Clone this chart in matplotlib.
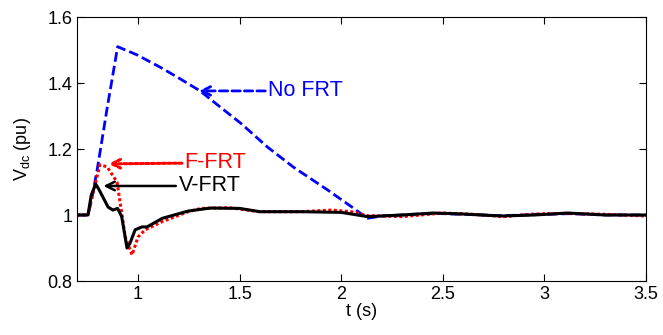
import matplotlib
matplotlib.use("Agg")
import matplotlib.pyplot as plt

plt.rcParams["font.family"] = ["Liberation Sans", "DejaVu Sans"]

# ---------- data ----------
t_nofrt = [0.70, 0.754, 0.77, 0.80, 0.85, 0.90, 0.996, 1.109, 1.193, 1.306,
           1.405, 1.504, 1.637, 1.765, 1.933, 2.06, 2.10, 2.13, 2.20, 2.45,
           2.60, 2.79, 2.95, 3.12, 3.30, 3.50]
v_nofrt = [1.00, 1.00, 1.04, 1.14, 1.33, 1.51, 1.485, 1.448, 1.418, 1.376,
           1.327, 1.279, 1.206, 1.145, 1.076, 1.021, 1.003, 0.99, 0.997, 1.005,
           1.002, 0.998, 1.001, 1.004, 1.0, 1.0]

t_ffrt = [0.70, 0.754, 0.77, 0.813, 0.848, 0.897, 0.92, 0.937, 0.971, 1.00,
          1.035, 1.12, 1.247, 1.31, 1.45, 1.60, 1.80, 1.95, 2.05, 2.13,
          2.30, 2.50, 2.65, 2.80, 2.95, 3.10, 3.30, 3.50]
v_ffrt = [1.00, 1.00, 1.045, 1.152, 1.146, 1.10, 1.006, 0.934, 0.879, 0.933,
          0.955, 0.98, 1.01, 1.02, 1.022, 1.01, 1.01, 1.015, 1.01, 0.998,
          0.995, 1.006, 1.002, 0.995, 1.003, 1.005, 1.002, 0.997]

t_vfrt = [0.70, 0.754, 0.77, 0.792, 0.81, 0.853, 0.877, 0.90, 0.92, 0.946,
          0.961, 0.986, 1.02, 1.045, 1.12, 1.247, 1.356, 1.50, 1.60, 1.80,
          2.00, 2.13, 2.30, 2.455, 2.60, 2.786, 2.95, 3.116, 3.30, 3.50]
v_vfrt = [1.00, 1.00, 1.06, 1.094, 1.075, 1.024, 1.015, 1.02, 0.995, 0.90,
          0.915, 0.955, 0.964, 0.964, 0.99, 1.012, 1.021, 1.02, 1.01, 1.01,
          1.008, 0.995, 1.0, 1.006, 1.003, 0.997, 1.0, 1.006, 1.0, 1.0]

x_ticks = [1, 1.5, 2, 2.5, 3, 3.5]
x_ticklabels = ["1", "1.5", "2", "2.5", "3", "3.5"]
y_ticks = [0.8, 1.0, 1.2, 1.4, 1.6]
y_ticklabels = ["0.8", "1", "1.2", "1.4", "1.6"]

# ---------- figure ----------
fig = plt.figure(figsize=(6.63, 3.35), dpi=100)
ax = fig.add_axes([77 / 663, 1 - 281 / 335, (646 - 77) / 663, (281 - 17) / 335])

ax.plot(t_nofrt, v_nofrt, color="blue", linestyle=(0, (3.5, 1.5)), lw=2.0)
ax.plot(t_ffrt, v_ffrt, color="red", linestyle=(0, (1, 0.8)), lw=2.2)
ax.plot(t_vfrt, v_vfrt, color="black", linestyle="-", lw=2.2)

# ---------- annotations ----------
ax.annotate("No FRT", xy=(1.30, 1.376), xytext=(1.64, 1.376), color="blue",
            fontsize=15.5, va="center",
            arrowprops=dict(arrowstyle="->", color="blue", lw=2.0,
                            linestyle=(0, (3, 1.5)), shrinkA=0, shrinkB=0))
ax.annotate("F-FRT", xy=(0.855, 1.155), xytext=(1.23, 1.158), color="red",
            fontsize=15.5, va="center",
            arrowprops=dict(arrowstyle="->", color="red", lw=2.2,
                            linestyle=(0, (1, 0.8)), shrinkA=0, shrinkB=0))
ax.annotate("V-FRT", xy=(0.83, 1.088), xytext=(1.20, 1.088), color="black",
            fontsize=15.5, va="center",
            arrowprops=dict(arrowstyle="->", color="black", lw=1.8,
                            shrinkA=0, shrinkB=0))

ax.set_xlim(0.7, 3.5)
ax.set_ylim(0.8, 1.6)
ax.set_xticks(x_ticks)
ax.set_xticklabels(x_ticklabels)
ax.set_yticks(y_ticks)
ax.set_yticklabels(y_ticklabels)
ax.tick_params(direction="in", top=True, right=True, labelsize=13, length=5)
ax.set_xlabel("t (s)", fontsize=13, labelpad=0)
ax.set_ylabel("V$_{\\mathregular{dc}}$ (pu)", fontsize=13, labelpad=10)

fig.savefig("out.png", dpi=100)
